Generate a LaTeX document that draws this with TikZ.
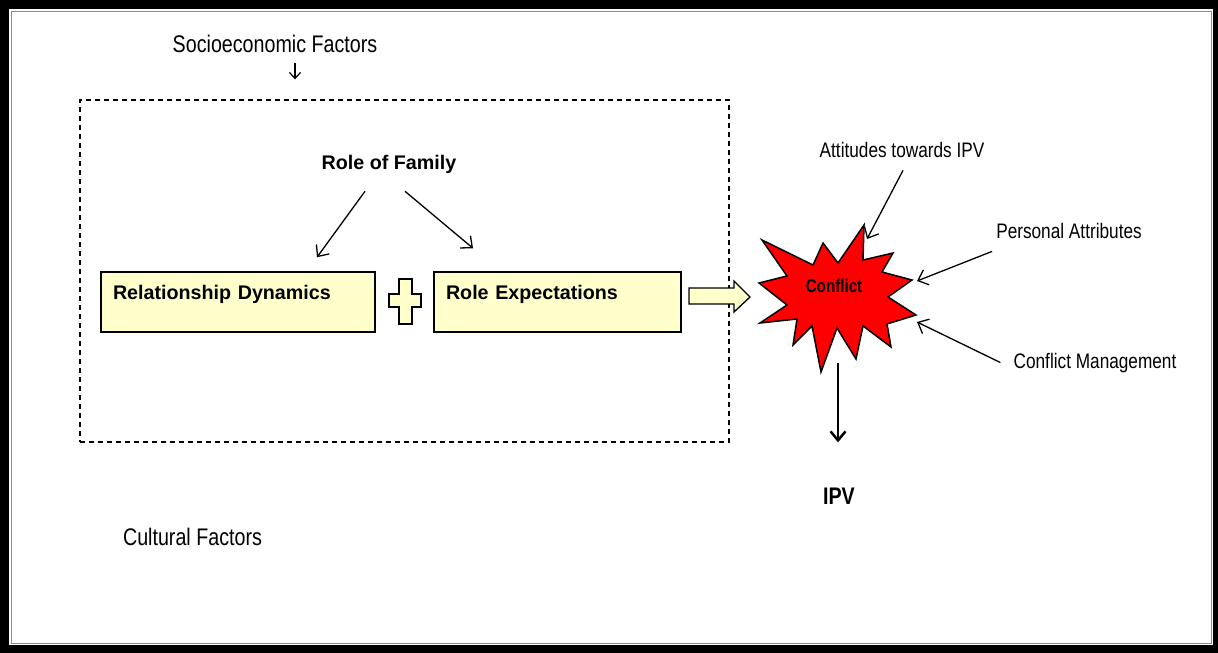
\documentclass[tikz,border=0pt]{standalone}
\usepackage{fontspec}
\setmainfont{Liberation Sans}
\newfontfamily\narrowfont{Liberation Sans}[FakeStretch=0.82]
\usetikzlibrary{arrows.meta}

\definecolor{boxyellow}{HTML}{FFFFCC}
\definecolor{framegray}{HTML}{8C8C8C}

\tikzset{
  factor/.style={inner sep=0pt, anchor=base, font=\narrowfont\fontsize{24}{28}\selectfont},
  cause/.style={inner sep=0pt, anchor=base, font=\narrowfont\fontsize{21}{25}\selectfont},
  headlbl/.style={inner sep=0pt, anchor=base, font=\bfseries\fontsize{19.7}{24}\selectfont},
  ybox/.style={draw, fill=boxyellow, line width=1.5pt, inner xsep=12pt, inner ysep=3pt,
    minimum height=60pt, align=left, text height=14pt, text depth=20pt,
    font=\bfseries\fontsize{19.7}{24}\selectfont},
  dashbox/.style={draw, dash pattern=on 5pt off 4pt, line width=1.3pt,
    minimum width=649pt, minimum height=342pt, inner sep=0pt},
  thinarr/.style={line width=1.3pt, -{Straight Barb[length=9pt,width=16pt]}},
  smallarr/.style={line width=1.2pt, -{Straight Barb[length=6pt,width=11pt]}},
  thickarr/.style={line width=2.5pt, -{Straight Barb[length=9pt,width=15pt]}},
}

\begin{document}
\begin{tikzpicture}[x=1pt,y=-1pt]

% frame
\useasboundingbox (0,0) rectangle (1218,653);
\fill[black] (0,0) rectangle (1218,653);
\fill[white] (9,9) rectangle (1213,645);
\draw[framegray, line width=1pt] (11,11) rectangle (1211,643);

% context box and outer factors
\node[dashbox] (ctx) at (404.5,271) {};
\node[factor] (soc) at (275,52) {Socioeconomic Factors};
\node[factor] (cult) at (192.5,545) {Cultural Factors};
\draw[smallarr] ([xshift=20pt,yshift=-11pt]soc.south) -- ([xshift=-109.5pt,yshift=20pt]ctx.north);

% family
\node[headlbl] (fam) at (389,169) {Role of Family};
\node[ybox, text width=250pt] (rd) at (238,302) {Relationship Dynamics};
\node[ybox, text width=223pt] (re) at (557.5,302) {Role Expectations};
\draw[thinarr] ([xshift=-24pt,yshift=-18pt]fam.south) -- ([xshift=79pt,yshift=14pt]rd.north);
\draw[thinarr] ([xshift=16pt,yshift=-18pt]fam.south) -- ([xshift=-84.5pt,yshift=23pt]re.north);

% plus sign
\draw[fill=boxyellow, line width=1.3pt] (399,279) -- (412,279) -- (412,294) -- (421,294) -- (421,307)
  -- (412,307) -- (412,324) -- (399,324) -- (399,307) -- (389,307) -- (389,294) -- (399,294) -- cycle;

% block arrow to conflict
\draw[fill=boxyellow, line width=1.3pt] (689,288) -- (734,288) -- (734,281) -- (750,297)
  -- (734,312) -- (734,304) -- (689,304) -- cycle;

% conflict burst
\draw[fill=red, line width=1.5pt] (762,240) -- (813,265) -- (823,243) -- (838,263) -- (864,225)
  -- (863,260) -- (893,253) -- (882,272) -- (912,280) -- (888,297) -- (916,315) -- (887,324)
  -- (891,347) -- (863,326) -- (856,359) -- (837,328) -- (821,372) -- (812,326) -- (793,345)
  -- (797,319) -- (760,323) -- (787,305) -- (759,283) -- (787,276) -- cycle;
\node[inner sep=0pt, anchor=base, font=\narrowfont\bfseries\fontsize{18.5}{22}\selectfont] (con) at (834,292) {Conflict};
\coordinate (hitatt) at (867,239);
\coordinate (hitpers) at (917,281);
\coordinate (hitmgmt) at (917,322);
\coordinate (conbot) at (838,363);

% influences
\node[cause] (att) at (902,157) {Attitudes towards IPV};
\node[cause] (pers) at (1069,238) {Personal Attributes};
\node[cause] (mgmt) at (1095,368) {Conflict Management};
\draw[thinarr] ([xshift=1pt,yshift=-13pt]att.south) -- (hitatt);
\draw[thinarr] ([xshift=-4pt,yshift=-13pt]pers.south west) -- (hitpers);
\draw[thinarr] ([xshift=-13pt]mgmt.west) -- (hitmgmt);

% outcome
\node[inner sep=0pt, anchor=base, font=\narrowfont\bfseries\fontsize{24}{28}\selectfont] (ipv) at (839,504) {IPV};
\draw[thickarr] (conbot) -- ([xshift=-1pt,yshift=45pt]ipv.north);

\end{tikzpicture}
\end{document}
